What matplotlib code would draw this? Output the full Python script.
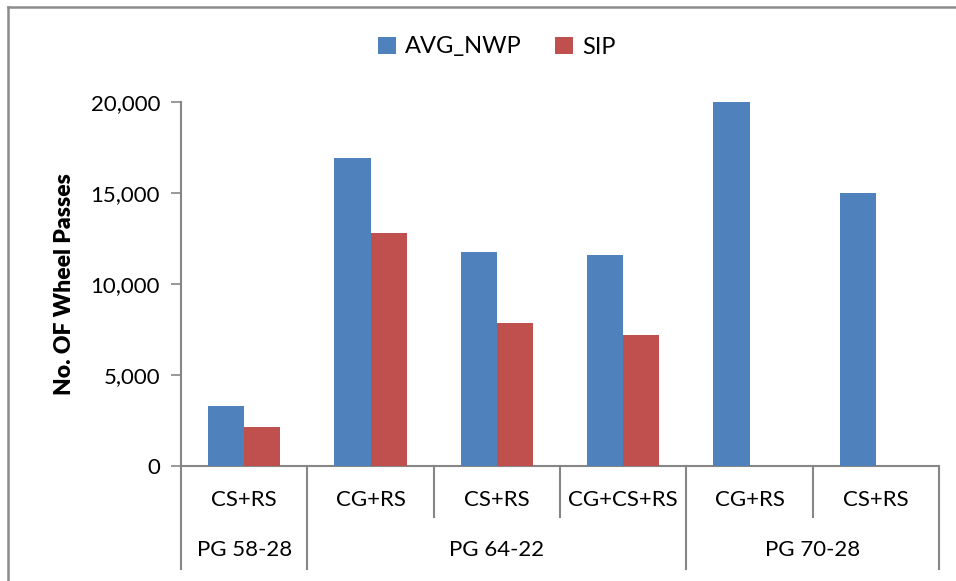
"""
Wheel passes by binder grade and treatment: AVG_NWP vs SIP,
drawn as an Excel-style clustered column chart with a two-row category axis.
"""
import matplotlib
matplotlib.use("Agg")
import matplotlib.pyplot as plt
from matplotlib.lines import Line2D
from matplotlib.ticker import FuncFormatter
import matplotlib.transforms as mtransforms

plt.rcParams['font.family'] = ['Lato', 'DejaVu Sans']

# data
treatments = ["CS+RS", "CG+RS", "CS+RS", "CG+CS+RS", "CG+RS", "CS+RS"]
grades = ["PG 58-28", "PG 64-22", "PG 70-28"]
grade_spans = [(0, 0), (1, 3), (4, 5)]  # first and last treatment index of each grade
avg_nwp = [3300, 16900, 11750, 11600, 20000, 15000]
sip = [2150, 12800, 7860, 7200, 0, 0]

blue = "#4F81BD"
red = "#C0504D"
grey = "#868686"

W, H = 956, 581
fig = plt.figure(figsize=(W / 100, H / 100), dpi=100)

# plot area in pixel terms: x 181..939, y 102..466
ax_left, ax_right, ax_top, ax_bottom = 181, 939, 102, 466
ax = fig.add_axes([ax_left / W, 1 - ax_bottom / H,
                   (ax_right - ax_left) / W, (ax_bottom - ax_top) / H])
ax_h = ax_bottom - ax_top

x = list(range(len(treatments)))
bw = 0.285
ax.bar([i - bw / 2 for i in x], avg_nwp, width=bw, color=blue, label="AVG_NWP", zorder=3)
ax.bar([i + bw / 2 for i in x], sip, width=bw, color=red, label="SIP", zorder=3)

ax.set_xlim(-0.5, len(treatments) - 0.5)
ax.set_ylim(0, 20000)
ax.set_yticks(range(0, 20001, 5000))
ax.yaxis.set_major_formatter(FuncFormatter(lambda v, p: f"{int(v):,}"))
ax.tick_params(axis='y', labelsize=16, length=7, width=1.2, color=grey, pad=8)
ax.set_xticks([])

for s in ["top", "right"]:
    ax.spines[s].set_visible(False)
for s in ["left", "bottom"]:
    ax.spines[s].set_color(grey)
    ax.spines[s].set_linewidth(1.5)

ax.set_ylabel("No. OF Wheel Passes", fontsize=16.5, fontweight="heavy", labelpad=11)

# two-row category axis below the plot
trans = mtransforms.blended_transform_factory(ax.transData, ax.transAxes)

def yfrac(px):
    return -px / ax_h

for i, t in enumerate(treatments):
    ax.text(i, yfrac(34), t, transform=trans, ha="center", va="center", fontsize=16)

for g, (a, b) in zip(grades, grade_spans):
    ax.text((a + b) / 2, yfrac(84), g, transform=trans, ha="center", va="center", fontsize=16)

long_edges = {-0.5} | {b + 0.5 for a, b in grade_spans}
for k in range(len(treatments) + 1):
    edge = k - 0.5
    depth = 103 if edge in long_edges else 51
    ax.add_line(Line2D([edge, edge], [0, yfrac(depth)], transform=trans,
                       color=grey, lw=1.5, clip_on=False))

# legend at the top centre
ax.legend(loc="center", bbox_to_anchor=(497 / W, 1 - 47 / H),
          bbox_transform=fig.transFigure, ncol=2, frameon=False, fontsize=17,
          handlelength=0.75, handleheight=0.75, handletextpad=0.4, columnspacing=1.4)

# chart frame (only left and top edges are visible in the crop)
fig.add_artist(Line2D([8 / W, 8 / W], [0, 1 - 7 / H], transform=fig.transFigure,
                      color="#8c8c8c", lw=1.8))
fig.add_artist(Line2D([8 / W, 1], [1 - 7 / H, 1 - 7 / H], transform=fig.transFigure,
                      color="#8c8c8c", lw=1.8))

fig.savefig("out.png", dpi=100)
